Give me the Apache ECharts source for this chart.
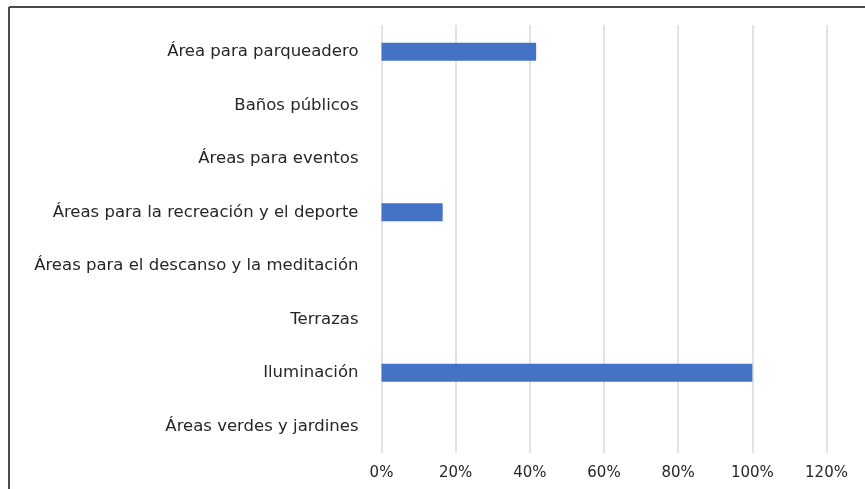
<!DOCTYPE html>
<html>
<head>
<meta charset="utf-8">
<script src="https://cdn.jsdelivr.net/npm/echarts@6/dist/echarts.min.js"></script>
<style>
html,body{margin:0;padding:0;background:#fff;}
#chart{width:865px;height:489px;}
</style>
</head>
<body>
<div id="chart"></div>
<script>
const categories = [
  "Área para parqueadero",
  "Baños públicos",
  "Áreas para eventos",
  "Áreas para la recreación y el deporte",
  "Áreas para el descanso y la meditación",
  "Terrazas",
  "Iluminación",
  "Áreas verdes y jardines"
];
const values = [41.7, 0, 0, 16.5, 0, 0, 100, 0];
const xTicks = [0, 20, 40, 60, 80, 100, 120];

const chart = echarts.init(document.getElementById('chart'), null, {renderer: 'canvas'});
const font = 'DejaVu Sans';
chart.setOption({
  animation: false,
  backgroundColor: '#ffffff',
  graphic: [
    {type: 'line', shape: {x1: 9, y1: 7, x2: 865, y2: 7}, style: {stroke: '#4a4a4a', lineWidth: 2}},
    {type: 'line', shape: {x1: 9, y1: 7, x2: 9, y2: 489}, style: {stroke: '#4a4a4a', lineWidth: 2}}
  ],
  grid: {left: 381.5, right: 38.5, top: 25, bottom: 36, containLabel: false},
  xAxis: {
    type: 'value',
    min: xTicks[0],
    max: xTicks[xTicks.length - 1],
    interval: 20,
    axisLine: {show: false},
    axisTick: {show: false},
    splitLine: {show: true, lineStyle: {color: '#d9d9d9', width: 1.5}},
    axisLabel: {
      formatter: v => v + '%',
      color: '#262626',
      fontFamily: font,
      fontSize: 15,
      margin: 13
    }
  },
  yAxis: {
    type: 'category',
    data: categories,
    inverse: true,
    axisLine: {show: false},
    axisTick: {show: false},
    axisLabel: {
      color: '#262626',
      fontFamily: font,
      fontSize: 16.5,
      margin: 23
    }
  },
  series: [{
    type: 'bar',
    data: values,
    barWidth: 18,
    itemStyle: {color: '#4472C4'}
  }]
});
</script>
</body>
</html>
